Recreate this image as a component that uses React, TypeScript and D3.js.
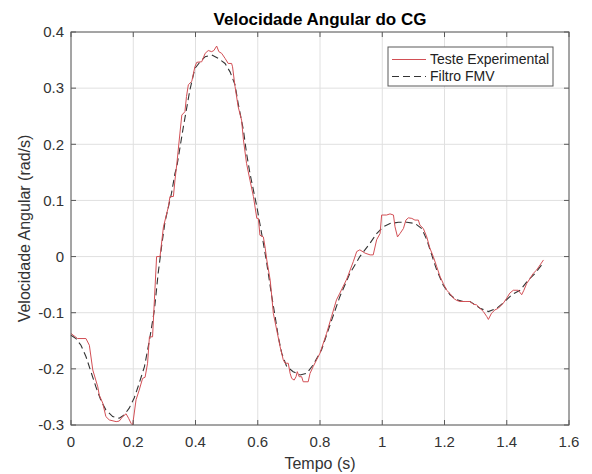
import React from "react";
import * as d3 from "d3";

const expT = [0.000,0.021,0.048,0.059,0.070,0.086,0.091,0.102,0.112,0.123,0.145,0.155,0.166,0.177,0.185,0.193,0.198,0.209,0.219,0.230,0.238,0.246,0.252,0.262,0.268,0.275,0.286,0.297,0.313,0.318,0.329,0.334,0.340,0.350,0.356,0.366,0.371,0.377,0.388,0.398,0.404,0.420,0.431,0.441,0.452,0.459,0.468,0.475,0.484,0.495,0.505,0.516,0.519,0.527,0.537,0.548,0.554,0.564,0.575,0.586,0.597,0.602,0.607,0.618,0.624,0.629,0.640,0.645,0.650,0.661,0.672,0.682,0.688,0.698,0.704,0.709,0.717,0.723,0.727,0.733,0.741,0.746,0.762,0.768,0.778,0.800,0.821,0.837,0.853,0.864,0.886,0.907,0.918,0.928,0.945,0.961,0.971,0.982,0.993,0.998,1.014,1.025,1.036,1.041,1.049,1.057,1.068,1.076,1.084,1.095,1.105,1.116,1.121,1.132,1.143,1.153,1.164,1.175,1.186,1.196,1.207,1.218,1.228,1.239,1.250,1.266,1.282,1.293,1.303,1.314,1.325,1.336,1.341,1.351,1.362,1.373,1.389,1.400,1.410,1.421,1.437,1.448,1.455,1.464,1.475,1.485,1.496,1.507,1.518];
const expV = [-0.137,-0.146,-0.146,-0.158,-0.202,-0.232,-0.247,-0.261,-0.285,-0.291,-0.294,-0.293,-0.285,-0.280,-0.288,-0.297,-0.300,-0.255,-0.238,-0.217,-0.215,-0.190,-0.143,-0.143,-0.077,0.000,0.000,0.053,0.089,0.107,0.107,0.136,0.165,0.220,0.252,0.258,0.285,0.306,0.312,0.338,0.346,0.347,0.362,0.367,0.365,0.367,0.375,0.365,0.362,0.353,0.344,0.344,0.338,0.303,0.267,0.243,0.208,0.166,0.136,0.107,0.068,0.068,0.038,0.035,0.015,-0.006,-0.042,-0.071,-0.101,-0.131,-0.161,-0.184,-0.190,-0.190,-0.208,-0.217,-0.220,-0.214,-0.205,-0.214,-0.214,-0.223,-0.223,-0.208,-0.196,-0.172,-0.137,-0.107,-0.077,-0.065,-0.040,-0.009,0.009,0.012,0.006,0.003,0.003,0.030,0.041,0.074,0.074,0.076,0.074,0.053,0.035,0.041,0.050,0.065,0.069,0.068,0.065,0.065,0.056,0.050,0.035,0.015,0.000,-0.018,-0.036,-0.048,-0.060,-0.066,-0.074,-0.078,-0.080,-0.080,-0.080,-0.085,-0.086,-0.092,-0.098,-0.107,-0.112,-0.101,-0.095,-0.092,-0.083,-0.074,-0.065,-0.060,-0.060,-0.068,-0.060,-0.048,-0.039,-0.030,-0.024,-0.015,-0.006];

const fmvT = [0.000,0.016,0.032,0.048,0.064,0.080,0.096,0.112,0.134,0.155,0.171,0.187,0.203,0.219,0.236,0.252,0.268,0.280,0.291,0.302,0.323,0.334,0.340,0.361,0.382,0.398,0.415,0.431,0.452,0.473,0.495,0.511,0.527,0.537,0.554,0.564,0.575,0.597,0.618,0.629,0.645,0.656,0.666,0.677,0.693,0.714,0.736,0.757,0.778,0.805,0.832,0.864,0.896,0.928,0.961,0.982,1.003,1.025,1.052,1.079,1.105,1.127,1.143,1.159,1.175,1.196,1.218,1.239,1.260,1.282,1.314,1.341,1.368,1.394,1.416,1.443,1.469,1.491,1.512];
const fmvV = [-0.140,-0.146,-0.158,-0.178,-0.205,-0.232,-0.256,-0.273,-0.285,-0.288,-0.282,-0.270,-0.252,-0.226,-0.196,-0.149,-0.095,-0.030,0.018,0.062,0.113,0.148,0.160,0.231,0.297,0.335,0.347,0.356,0.359,0.353,0.344,0.329,0.306,0.273,0.225,0.184,0.148,0.089,0.024,-0.012,-0.071,-0.107,-0.143,-0.172,-0.196,-0.205,-0.211,-0.208,-0.193,-0.166,-0.122,-0.071,-0.030,0.000,0.024,0.041,0.053,0.059,0.061,0.061,0.059,0.050,0.030,0.003,-0.024,-0.051,-0.068,-0.077,-0.080,-0.080,-0.092,-0.098,-0.092,-0.080,-0.068,-0.060,-0.042,-0.030,-0.015];

const xTicks = [0, 0.2, 0.4, 0.6, 0.8, 1, 1.2, 1.4, 1.6];
const yTicks = [-0.3, -0.2, -0.1, 0, 0.1, 0.2, 0.3, 0.4];

const titleText = "Velocidade Angular do CG";
const xLabel = "Tempo (s)";
const yLabel = "Velocidade Angular (rad/s)";
const seriesNames = ["Teste Experimental", "Filtro FMV"];

const W = 592, H = 474;
const L = 71, R = 569, T = 32, B = 425;
const FONT = "'Liberation Sans', Arial, Helvetica, sans-serif";
const RED = "#d24f55";
const DASH = "#333333";

export default function App() {
  const x = d3.scaleLinear().domain([0, 1.6]).range([L, R]);
  const y = d3.scaleLinear().domain([-0.3, 0.4]).range([B, T]);
  const line = d3.line<[number, number]>().x(d => x(d[0])).y(d => y(d[1]));
  const expPts = expT.map((t, i) => [t, expV[i]] as [number, number]);
  const fmvPts = fmvT.map((t, i) => [t, fmvV[i]] as [number, number]);
  const fmt = (v: number) => (v === 0 ? "0" : String(v));
  const axisColor = "#5a5a5a";
  const gridColor = "#e0e0e0";
  const tick = 5;
  const lx = 388, ly = 47, lw = 165, lh = 39;
  return (
    <svg width={W} height={H} style={{ position: "absolute", left: 0, top: 0, background: "#fff" }} fontFamily={FONT}>
      <rect x={0} y={0} width={W} height={H} fill="#fff" />
      {xTicks.map(v => (
        <line key={"gx" + v} x1={x(v)} x2={x(v)} y1={T} y2={B} stroke={gridColor} strokeWidth={1} />
      ))}
      {yTicks.map(v => (
        <line key={"gy" + v} x1={L} x2={R} y1={y(v)} y2={y(v)} stroke={gridColor} strokeWidth={1} />
      ))}
      <path d={line(fmvPts) || ""} fill="none" stroke={DASH} strokeWidth={1.1} strokeDasharray="7,4" />
      <path d={line(expPts) || ""} fill="none" stroke={RED} strokeWidth={1} />
      <rect x={L} y={T} width={R - L} height={B - T} fill="none" stroke={axisColor} strokeWidth={1} />
      {xTicks.map(v => (
        <g key={"tx" + v}>
          <line x1={x(v)} x2={x(v)} y1={B} y2={B - tick} stroke={axisColor} />
          <line x1={x(v)} x2={x(v)} y1={T} y2={T + tick} stroke={axisColor} />
          <text x={x(v)} y={447} textAnchor="middle" fontSize={15} fill="#333">{fmt(v)}</text>
        </g>
      ))}
      {yTicks.map(v => (
        <g key={"ty" + v}>
          <line x1={L} x2={L + tick} y1={y(v)} y2={y(v)} stroke={axisColor} />
          <line x1={R} x2={R - tick} y1={y(v)} y2={y(v)} stroke={axisColor} />
          <text x={64} y={y(v)} dy="0.35em" textAnchor="end" fontSize={15} fill="#333">{fmt(v)}</text>
        </g>
      ))}
      <text x={(L + R) / 2} y={25} textAnchor="middle" fontSize={17} fontWeight="bold" fill="#000">{titleText}</text>
      <text x={(L + R) / 2} y={469} textAnchor="middle" fontSize={16} fill="#333">{xLabel}</text>
      <text transform={`translate(30,${(T + B) / 2}) rotate(-90)`} textAnchor="middle" fontSize={16} fill="#333">{yLabel}</text>
      <g>
        <rect x={lx} y={ly} width={lw} height={lh} fill="#fff" stroke={axisColor} strokeWidth={1} />
        <line x1={392} x2={426} y1={59.5} y2={59.5} stroke={RED} strokeWidth={1} />
        <line x1={392} x2={426} y1={76.5} y2={76.5} stroke={DASH} strokeWidth={1.1} strokeDasharray="7,4" />
        <text x={430} y={59.5} dy="0.35em" fontSize={14} fill="#222">{seriesNames[0]}</text>
        <text x={430} y={76.5} dy="0.35em" fontSize={14} fill="#222">{seriesNames[1]}</text>
      </g>
    </svg>
  );
}
